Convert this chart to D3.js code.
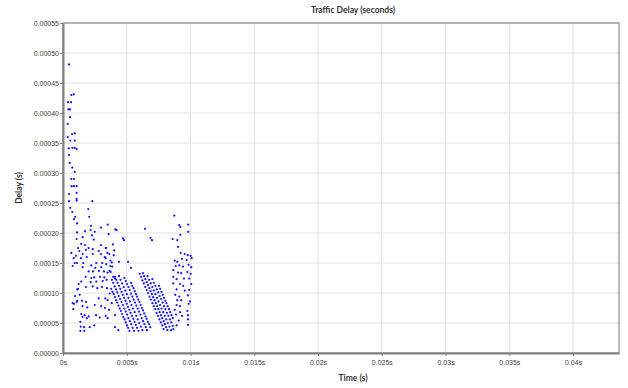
<!DOCTYPE html>
<html>
<head>
<meta charset="utf-8">
<script src="https://cdn.jsdelivr.net/npm/d3@7"></script>
<style>
  body { margin: 0; background: #fff; }
  svg { display: block; }
</style>
</head>
<body>
<div id="chart"></div>
<script>
// tick values
const xTicks = [0, 0.005, 0.01, 0.015, 0.02, 0.025, 0.03, 0.035, 0.04];
const yTicks = [0, 0.00005, 0.0001, 0.00015, 0.0002, 0.00025, 0.0003, 0.00035, 0.0004, 0.00045, 0.0005, 0.00055];

// points: [time in ms, delay in microseconds]
const burstPoints = [
  [0.47,481],[0.65,430],[0.84,431],[0.39,418],[0.63,418],[0.42,406],[0.55,406],[0.55,393],
  [0.37,382],[0.71,365],[0.92,366],[0.37,360],[0.57,354],[0.92,354],[0.45,341],[0.73,342],
  [0.92,342],[1.07,340],[0.47,330],[0.53,317],[0.73,309],[0.92,302],[0.65,290],[0.86,290],
  [0.68,278],[0.86,278],[1.07,278],[0.47,265],[1.07,267],[1.07,257]
];

const scatterLeft = [
  [0.47,253],[1.07,254],[2.30,253],[0.57,242],[1.98,240],[0.73,235],[0.96,227],[0.86,223],
  [2.06,227],[1.10,216],[2.20,212],[2.98,209],[1.10,201],[1.72,203],[2.17,205],[2.49,202],
  [1.54,193],[2.27,196],[1.07,190],[2.41,189],[1.43,182],[1.72,180],[2.98,180],[1.18,175],
  [2.01,175],[2.33,173],[1.28,170],[1.80,172],[2.80,170],[3.39,175],[0.65,167],[1.54,165],
  [1.02,162],[2.33,165],[2.98,165],[0.84,158],[1.41,158],[1.86,160],[3.27,160],[0.92,150],
  [1.10,150],[1.59,150],[2.61,150],[3.08,150],[0.76,145],[1.54,143],[2.22,146],[2.53,142],
  [3.00,143],[2.01,136],[2.35,136],[2.82,137],[3.21,136],[1.78,127],[2.22,125],[2.45,126],
  [2.90,127],[3.24,126],[1.43,119],[2.17,118],[2.61,119],[3.11,120],[1.18,107],[1.80,110],
  [2.33,111],[2.69,108],[3.06,110],[1.31,97],[1.12,87],[1.49,87],[1.80,85],[2.80,91],
  [3.32,91],[0.86,82],[1.54,78],[1.91,76],[2.49,80],[3.00,78],[0.81,73],[3.29,75],
  [1.43,65],[1.70,63],[2.01,61],[2.59,63],[3.35,62],[1.54,60],[1.86,58],[2.88,59],
  [1.36,52],[1.39,44],[1.65,43],[2.09,43],[2.45,46],[1.36,37],[1.67,37],
  [0.76,83],[1.07,85],[1.12,106],[1.23,115],[0.95,95]
];

const scatterMid = [
  [3.50,214],[4.10,206],[4.21,205],[3.58,198],[4.70,191],[4.78,188],[3.35,175],[3.92,181],
  [4.02,171],[3.47,167],[3.63,165],[3.98,163],[3.35,158],[3.71,154],[3.82,151],[3.39,148],
  [3.71,145],[3.86,144],[3.66,137],[3.74,135],[3.50,134],[3.94,127],[4.08,124],[3.42,122],
  [3.45,108],[3.66,99],[3.50,88],[3.82,83],[3.61,72],[4.08,63],[3.50,58],[4.08,43],
  [4.34,38],[4.39,152],[5.10,152],[5.33,142],[6.43,207],[6.86,192],[6.98,188]
];

// first run of falling diagonal streaks
const streaksA = [
  [3.78,107],[3.88,102],[3.97,98],[4.07,93],[4.16,88],[4.26,84],[4.35,79],[4.45,74],
  [4.54,70],[4.64,65],[4.73,60],[4.83,56],[4.92,51],[5.02,46],[5.11,42],[5.21,37],
  [3.83,122],[3.94,117],[4.05,111],[4.16,106],[4.26,101],[4.37,95],[4.48,90],[4.59,85],
  [4.70,80],[4.81,74],[4.92,69],[5.03,64],[5.13,58],[5.24,53],[5.35,48],[5.46,42],[5.57,37],
  [4.08,127],[4.18,122],[4.28,117],[4.39,112],[4.49,107],[4.59,102],[4.69,97],[4.79,92],
  [4.90,87],[5.00,82],[5.10,77],[5.20,72],[5.30,67],[5.41,62],[5.51,57],[5.61,52],
  [5.71,47],[5.81,42],[5.92,37],
  [4.39,128],[4.51,122],[4.64,116],[4.76,110],[4.88,104],[5.00,98],[5.13,92],[5.25,86],
  [5.37,80],[5.49,74],[5.62,68],[5.74,62],[5.86,56],[5.98,50],[6.11,44],[6.23,38],
  [4.81,125],[4.92,120],[5.02,115],[5.13,110],[5.23,105],[5.33,99],[5.44,94],[5.54,89],
  [5.65,84],[5.75,79],[5.86,74],[5.96,69],[6.07,64],[6.17,58],[6.28,53],[6.38,48],
  [6.49,43],[6.59,38],
  [5.34,117],[5.43,112],[5.53,108],[5.62,103],[5.72,98],[5.81,94],[5.90,89],[6.00,85],
  [6.09,80],[6.18,75],[6.28,71],[6.37,66],[6.47,61],[6.56,57],[6.65,52],[6.75,48],[6.84,43]
];

// second run of streaks
const streaksB = [
  [6.01,132],[6.12,127],[6.23,121],[6.34,116],[6.45,110],[6.56,105],[6.67,100],[6.78,94],
  [6.89,89],[7.01,83],[7.12,78],[7.23,73],[7.34,67],[7.45,62],[7.56,56],[7.67,51],
  [7.78,46],[7.89,40],
  [6.26,133],[6.36,128],[6.46,123],[6.56,118],[6.67,113],[6.77,108],[6.87,103],[6.97,98],
  [7.07,93],[7.17,88],[7.28,83],[7.38,78],[7.48,73],[7.58,68],[7.68,63],[7.78,58],
  [7.89,53],[7.99,48],[8.09,43],[8.19,38],
  [6.63,128],[6.75,122],[6.88,116],[7.00,110],[7.12,104],[7.24,98],[7.37,92],[7.49,86],
  [7.61,80],[7.73,74],[7.86,68],[7.98,62],[8.10,56],[8.22,50],[8.35,44],[8.47,38],
  [7.01,123],[7.12,117],[7.24,112],[7.35,106],[7.47,101],[7.58,95],[7.69,90],[7.81,84],
  [7.92,78],[8.04,73],[8.15,67],[8.26,62],[8.38,56],[8.49,51],[8.61,45],
  [7.52,112],[7.62,107],[7.72,102],[7.82,97],[7.92,92],[8.02,87],[8.11,83],[8.21,78],
  [8.31,73],[8.41,68],[8.51,63],[8.61,58]
];

const tailCluster = [
  [8.73,229],[9.82,214],[9.12,213],[9.20,210],[9.82,202],[9.20,197],[8.60,190],[8.96,188],
  [9.02,177],[9.23,167],[9.54,165],[9.78,163],[10.01,162],[8.76,154],[8.96,152],[9.33,157],
  [9.70,155],[10.09,158],[8.84,145],[9.12,146],[9.41,144],[9.85,147],[10.06,143],[8.65,138],
  [9.02,134],[9.27,133],[9.75,135],[10.01,132],[8.65,127],[8.91,123],[9.49,124],[9.90,124],
  [8.65,116],[9.17,115],[9.43,112],[10.06,115],[8.91,106],[9.54,104],[9.90,105],[8.80,97],
  [9.12,94],[9.80,96],[8.96,88],[9.27,88],[9.96,86],[8.91,80],[9.17,78],[9.85,82],
  [8.76,72],[9.17,68],[9.75,70],[8.86,64],[9.33,62],[9.80,63],[9.07,54],[9.80,56],
  [8.91,46],[9.80,47],[8.65,40]
];

const width = 628, height = 388;
const margin = {top: 23, right: 9, bottom: 35, left: 63};
const tickFont = "'Liberation Sans', Arial, sans-serif";
const titleFont = "Lato, 'Open Sans', sans-serif";

const svg = d3.select("#chart")
  .append("svg")
  .attr("width", width)
  .attr("height", height);

const x = d3.scaleLinear()
  .domain([0, 0.0436])
  .range([margin.left, width - margin.right]);

const y = d3.scaleLinear()
  .domain([0, 0.00055])
  .range([height - margin.bottom, margin.top]);

// grid
svg.append("g")
  .selectAll("line")
  .data(xTicks)
  .enter()
  .append("line")
  .attr("x1", d => x(d)).attr("x2", d => x(d))
  .attr("y1", margin.top).attr("y2", height - margin.bottom)
  .attr("stroke", "#e2e2e2");

svg.append("g")
  .selectAll("line")
  .data(yTicks)
  .enter()
  .append("line")
  .attr("x1", margin.left).attr("x2", width - margin.right)
  .attr("y1", d => y(d)).attr("y2", d => y(d))
  .attr("stroke", "#e2e2e2");

// frame
svg.append("rect")
  .attr("x", margin.left)
  .attr("y", margin.top)
  .attr("width", width - margin.left - margin.right)
  .attr("height", height - margin.top - margin.bottom)
  .attr("fill", "none")
  .attr("stroke", "#8c8c8c")
  .attr("stroke-width", 1.2);

// axes
const xAxis = svg.append("g")
  .attr("transform", `translate(0,${height - margin.bottom})`)
  .call(d3.axisBottom(x)
    .tickValues(xTicks)
    .tickSize(3)
    .tickSizeOuter(0)
    .tickFormat(d => `${+d.toFixed(3)}s`));

const yAxis = svg.append("g")
  .attr("transform", `translate(${margin.left},0)`)
  .call(d3.axisLeft(y)
    .tickValues(yTicks)
    .tickSize(3)
    .tickSizeOuter(0)
    .tickFormat(d3.format(".5f")));

[xAxis, yAxis].forEach(g => {
  g.select(".domain").attr("stroke", "#808080").attr("stroke-width", 2);
  g.selectAll(".tick line").attr("stroke", "#808080");
  g.selectAll(".tick text")
    .style("font-family", tickFont)
    .style("font-size", "7px")
    .attr("fill", "#404040");
});
xAxis.selectAll(".tick text").attr("dy", "0.9em");
yAxis.selectAll(".tick text").attr("x", -4);

// points
const allPoints = [].concat(burstPoints, scatterLeft, scatterMid, streaksA, streaksB, tailCluster);

svg.append("g")
  .selectAll("circle")
  .data(allPoints)
  .enter()
  .append("circle")
  .attr("cx", d => x(d[0] / 1000))
  .attr("cy", d => y(d[1] / 1e6))
  .attr("r", 1.1)
  .attr("fill", "#1010ff");

// titles
svg.append("text")
  .attr("x", 353)
  .attr("y", 13)
  .attr("text-anchor", "middle")
  .style("font-family", titleFont)
  .style("font-size", "8.5px")
  .style("font-weight", "bold")
  .attr("fill", "#333")
  .text("Traffic Delay (seconds)");

svg.append("text")
  .attr("x", 353)
  .attr("y", 381)
  .attr("text-anchor", "middle")
  .style("font-family", titleFont)
  .style("font-size", "8.5px")
  .style("font-weight", "bold")
  .attr("fill", "#333")
  .text("Time (s)");

svg.append("text")
  .attr("transform", `translate(22,${(margin.top + height - margin.bottom) / 2}) rotate(-90)`)
  .attr("text-anchor", "middle")
  .style("font-family", titleFont)
  .style("font-size", "8.5px")
  .style("font-weight", "bold")
  .attr("fill", "#333")
  .text("Delay (s)");
</script>
</body>
</html>
